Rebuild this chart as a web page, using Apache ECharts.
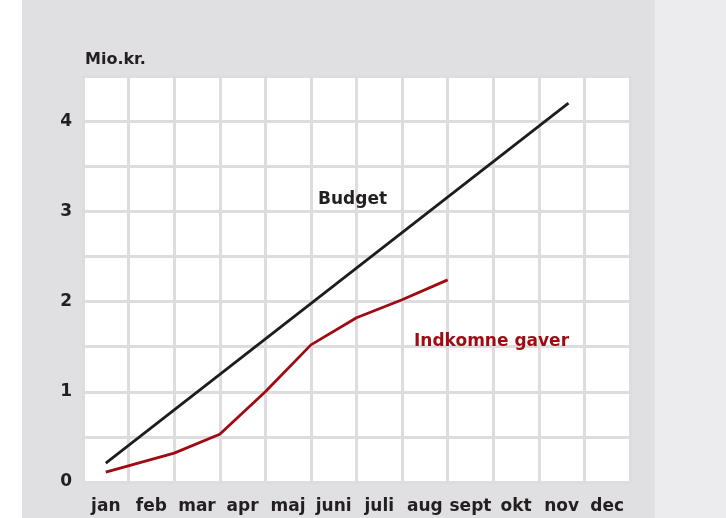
<!DOCTYPE html>
<html>
<head>
<meta charset="utf-8">
<script src="https://cdn.jsdelivr.net/npm/echarts@6/dist/echarts.min.js"></script>
<style>
  html, body { margin: 0; padding: 0; background: #fff; }
  #chart { width: 726px; height: 518px; }
</style>
</head>
<body>
<div id="chart"></div>
<script>
// months on the category axis; series x values are in month units (0 = start of jan)
const months = ['jan', 'feb', 'mar', 'apr', 'maj', 'juni', 'juli', 'aug', 'sept', 'okt', 'nov', 'dec'];
const budgetX = [0.5, 10.65];
const budgetValues = [0.21, 4.2];
const giftsX = [0.5, 2, 3, 4, 5, 6, 7, 8];
const giftsValues = [0.11, 0.32, 0.53, 1.0, 1.52, 1.82, 2.02, 2.24];
const yTicks = [0, 1, 2, 3, 4];

const font = 'DejaVu Sans';
const ink = '#231f20';
const red = '#9e0b12';

const chart = echarts.init(document.getElementById('chart'));

chart.setOption({
  animation: false,
  backgroundColor: '#e0e0e2',
  textStyle: { fontFamily: font },
  grid: {
    left: 83,
    right: 96,
    top: 76,
    bottom: 36,
    show: true,
    backgroundColor: '#ffffff',
    borderWidth: 0,
  },
  xAxis: [
    {
      type: 'category',
      data: months,
      boundaryGap: true,
      axisLine: { show: false },
      axisTick: { show: false },
      axisLabel: {
        interval: 0,
        margin: 16,
        color: ink,
        fontFamily: font,
        fontWeight: 'bold',
        fontSize: 17,
      },
      splitLine: { show: true, interval: 0, lineStyle: { color: '#dddddf', width: 3 } },
    },
    {
      type: 'value',
      min: 0,
      max: 12,
      show: false,
    },
  ],
  yAxis: {
    type: 'value',
    min: 0,
    max: 4.5,
    interval: 0.5,
    name: 'Mio.kr.',
    nameLocation: 'end',
    nameGap: 8,
    nameTextStyle: {
      align: 'left',
      color: ink,
      fontFamily: font,
      fontWeight: 'bold',
      fontSize: 16,
      padding: [0, 0, 0, 2],
    },
    axisLine: { show: false },
    axisTick: { show: false },
    axisLabel: {
      margin: 11,
      color: ink,
      fontFamily: font,
      fontWeight: 'bold',
      fontSize: 17,
      formatter: (v) => (yTicks.includes(v) ? String(v) : ''),
    },
    splitLine: { show: true, lineStyle: { color: '#dddddf', width: 3 } },
  },
  graphic: [
    { type: 'rect', left: 0, top: 0, z: -10, shape: { width: 22, height: 518 }, style: { fill: '#ffffff' } },
    { type: 'rect', left: 655, top: 0, z: -10, shape: { width: 71, height: 518 }, style: { fill: '#ececee' } },
    {
      type: 'text',
      left: 318,
      top: 191,
      z: 100,
      style: { text: 'Budget', fill: ink, font: 'bold 17px "DejaVu Sans"' },
    },
    {
      type: 'text',
      left: 414,
      top: 333,
      z: 100,
      style: { text: 'Indkomne gaver', fill: red, font: 'bold 17px "DejaVu Sans"' },
    },
  ],
  series: [
    {
      name: 'Budget',
      type: 'line',
      xAxisIndex: 1,
      data: budgetX.map((x, i) => [x, budgetValues[i]]),
      symbol: 'none',
      lineStyle: { color: '#1d1d1d', width: 2.8 },
    },
    {
      name: 'Indkomne gaver',
      type: 'line',
      xAxisIndex: 1,
      data: giftsX.map((x, i) => [x, giftsValues[i]]),
      symbol: 'none',
      lineStyle: { color: red, width: 2.8 },
    },
  ],
});
</script>
</body>
</html>
